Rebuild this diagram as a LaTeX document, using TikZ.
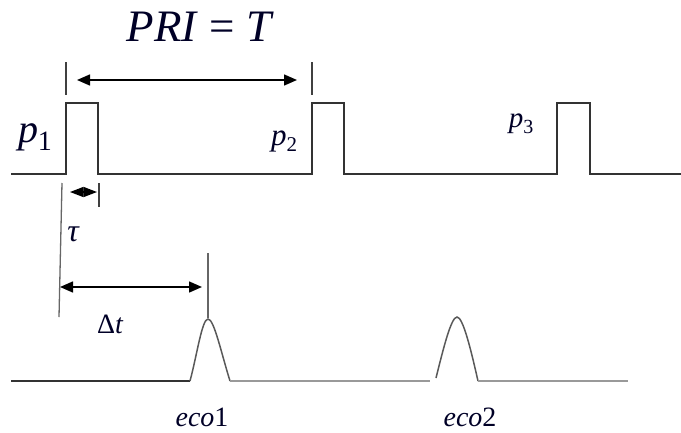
\documentclass[tikz,border=0pt]{standalone}
\usepackage{fontspec}
\setmainfont{Liberation Serif}
\usetikzlibrary{arrows.meta}
\begin{document}
\begin{tikzpicture}[x=1pt,y=-1pt,
  sig/.style={line width=1.5pt,draw=black!80,line join=miter},
  tick/.style={line width=1.3pt,draw=black!75},
  dim/.style={line width=1.5pt,draw=black,{Triangle[length=13pt,width=11pt]}-{Triangle[length=13pt,width=11pt]}},
  lab/.style={inner sep=0pt,text=black!85!blue}]
\useasboundingbox (0,0) rectangle (681,432);
% top pulse train
\draw[sig] (11,174) -- (66,174) -- (66,103) -- (98,103) -- (98,174) -- (312,174) -- (312,103) -- (344,103) -- (344,174)
  -- (557,174) -- (557,103) -- (590,103) -- (590,174) -- (681,174);
% PRI ticks and arrow
\coordinate (t1a) at (66,62); \coordinate (t1b) at (66,95);
\coordinate (t2a) at (312,62); \coordinate (t2b) at (312,95);
\draw[tick] (t1a) -- (t1b);
\draw[tick] (t2a) -- (t2b);
\coordinate (pa) at (77,80); \coordinate (pb) at (297,80);
\draw[dim] (pa) -- (pb);
\node[lab] (pri) at (199,27) {\fontsize{45}{47}\selectfont\itshape PRI\/\upshape\ =\ \itshape T};
% pulse labels
\node[lab] (p1) at (35,137) {\fontsize{40}{42}\selectfont\itshape p\/\raisebox{-0.2em}{\fontsize{28}{30}\selectfont\upshape 1}};
\node[lab] (p2) at (284,141) {\fontsize{31}{33}\selectfont\itshape p\/\raisebox{-0.2em}{\fontsize{21}{22}\selectfont\upshape 2}};
\node[lab] (p3) at (521,124) {\fontsize{29}{31}\selectfont\itshape p\/\raisebox{-0.2em}{\fontsize{20}{21}\selectfont\upshape 3}};
% tau
\coordinate (sl1) at (62,183); \coordinate (sl2) at (59,317);
\draw[line width=1.3pt,draw=black!60] (sl1) -- (sl2);
\coordinate (tt1) at (99,183); \coordinate (tt2) at (99,207);
\draw[tick] (tt1) -- (tt2);
\coordinate (ta) at (70,192); \coordinate (tb) at (97,192);
\draw[line width=1.3pt,{Triangle[length=13.5pt,width=10pt]}-{Triangle[length=13.5pt,width=10pt]}] (ta) -- (tb);
\node[lab] (tau) at (73,234) {\fontsize{32}{34}\selectfont\itshape τ};
% delta t
\coordinate (dt1) at (208,253); \coordinate (dt2) at (208,318);
\draw[line width=1.2pt,draw=black!60] (dt1) -- (dt2);
\coordinate (da) at (60,287); \coordinate (db) at (202,287);
\draw[dim] (da) -- (db);
\node[lab] (dt) at (110,324) {\fontsize{28}{30}\selectfont Δ\itshape t};
% echoes
\draw[line width=1.5pt,draw=black!80] (11,381) -- (190,381);
\draw[line width=1.5pt,draw=black!65] (190,381) .. controls (197,355) and (202,319) .. (208,319)
  .. controls (214,319) and (221,352) .. (230,381);
\draw[line width=1.8pt,draw=black!40] (230,381) -- (430,381);
\draw[line width=1.5pt,draw=black!65] (436,378) .. controls (443,350) and (451,317) .. (457,317)
  .. controls (463,317) and (471,350) .. (478,381);
\draw[line width=1.8pt,draw=black!40] (478,381) -- (628,381);
\node[lab] (e1) at (202,417) {\fontsize{28}{30}\selectfont\itshape eco\upshape 1};
\node[lab] (e2) at (470,417) {\fontsize{28}{30}\selectfont\itshape eco\upshape 2};
\end{tikzpicture}
\end{document}
